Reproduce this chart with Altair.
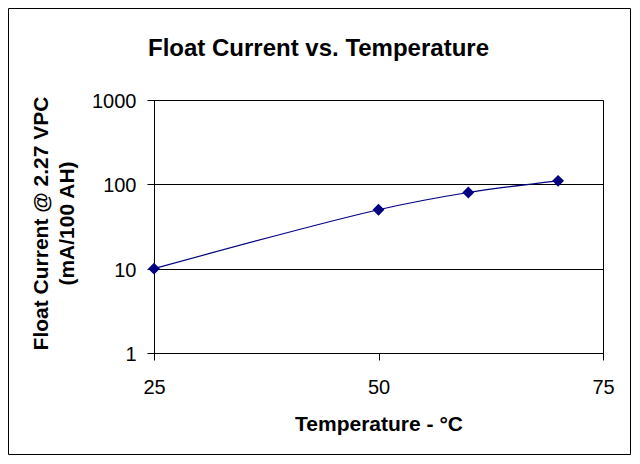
import altair as alt
import pandas as pd

# Float current readings (mA per 100 AH at 2.27 VPC)
temps = [25, 50, 60, 70]
currents = [10, 50, 80, 110]

x_ticks = [25, 50, 75]
y_ticks = [1, 10, 100, 1000]

df = pd.DataFrame({"Temperature": temps, "Current": currents})

FONT = "Liberation Sans"
NAVY = "#000080"

x_enc = alt.X(
    "Temperature:Q",
    scale=alt.Scale(domain=[25, 75], nice=False, zero=False),
    axis=alt.Axis(
        values=x_ticks,
        title="Temperature - °C",
        grid=False,
        tickSize=7,
        labelFlush=False,
        labelBaseline="alphabetic",
        labelPadding=33,
        titleBaseline="alphabetic",
        titleY=77,
    ),
)
y_enc = alt.Y(
    "Current:Q",
    scale=alt.Scale(type="log", domain=[1, 1000], nice=False),
    axis=alt.Axis(
        values=y_ticks,
        format="d",
        title=["Float Current @ 2.27 VPC", "(mA/100 AH)"],
        tickSize=7,
        labelFlush=False,
        labelPadding=11,
        labelOffset=1.5,
        titleBaseline="alphabetic",
        titleAlign="center",
        titleAngle=270,
        titleX=-107,
        titleY=123,
        titleLineHeight=26,
    ),
)

line = (
    alt.Chart(df)
    .mark_line(interpolate="catmull-rom", color=NAVY, strokeWidth=1.2)
    .encode(x=x_enc, y=y_enc)
)

points = (
    alt.Chart(df)
    .mark_point(shape="diamond", filled=True, size=140, color=NAVY, opacity=1)
    .encode(x="Temperature:Q", y="Current:Q")
)

# outer frame around the whole chart
frame = (
    alt.Chart(pd.DataFrame({"f": [0]}))
    .mark_rect(fillOpacity=0, stroke="black", strokeWidth=1)
    .encode(
        x=alt.value(-145.5),
        x2=alt.value(476.5),
        y=alt.value(-91.5),
        y2=alt.value(354.5),
    )
)

chart = (
    (line + points + frame)
    .properties(
        width=449,
        height=253,
        autosize=alt.AutoSizeParams(type="none"),
        padding={"left": 146, "top": 92, "right": 29, "bottom": 104},
        background="white",
        title=alt.TitleParams(
            "Float Current vs. Temperature",
            font=FONT,
            fontSize=24,
            fontWeight="bold",
            color="black",
            anchor="middle",
            baseline="alphabetic",
            dx=-60,
            dy=76,
        ),
    )
    .configure_axis(
        labelFont=FONT,
        labelFontSize=20,
        labelColor="black",
        titleFont=FONT,
        titleFontSize=21,
        titleFontWeight="bold",
        titleColor="black",
        domainColor="black",
        tickColor="black",
        gridColor="black",
        gridOpacity=1,
        gridWidth=1,
        domainWidth=1,
        tickWidth=1,
    )
    .configure_view(stroke="black", strokeWidth=1)
)

chart.save("out.html", embed_options={"renderer": "svg", "actions": False})
